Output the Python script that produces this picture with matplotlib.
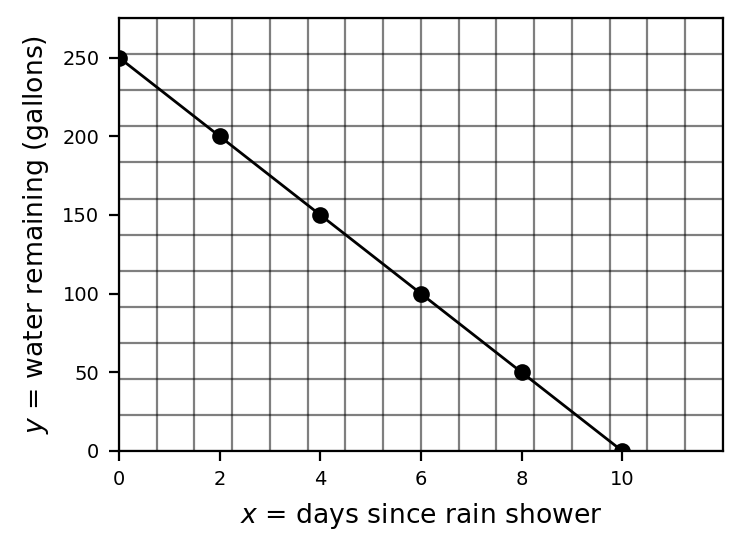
import matplotlib
matplotlib.use("Agg")
import matplotlib.pyplot as plt
import numpy as np

days = [0, 2, 4, 6, 8, 10]
gallons = [250, 200, 150, 100, 50, 0]
x_ticks = [0, 2, 4, 6, 8, 10]
y_ticks = [0, 50, 100, 150, 200, 250]

x_max = 12
y_max = 275

fig = plt.figure(figsize=(3.715, 2.75), dpi=200)
ax = fig.add_axes([0.160, 0.18, 0.813, 0.787])

# grid cells: 16 across, 12 down
for gx in np.linspace(0, x_max, 17):
    ax.axvline(gx, color="black", alpha=0.5, lw=0.8, zorder=0)
for gy in np.linspace(0, y_max, 13):
    ax.axhline(gy, color="black", alpha=0.5, lw=0.8, zorder=0)

ax.plot(days, gallons, color="black", lw=1, marker="o", markersize=5, zorder=3)

ax.set_xlim(0, x_max)
ax.set_ylim(0, y_max)
ax.set_xticks(x_ticks)
ax.set_yticks(y_ticks)
ax.tick_params(labelsize=7, width=0.8, length=3.5)
ax.set_xlabel("$x$ = days since rain shower", fontsize=9.6)
ax.set_ylabel("$y$ = water remaining (gallons)", fontsize=9.6)

fig.savefig("out.png", dpi=200)
